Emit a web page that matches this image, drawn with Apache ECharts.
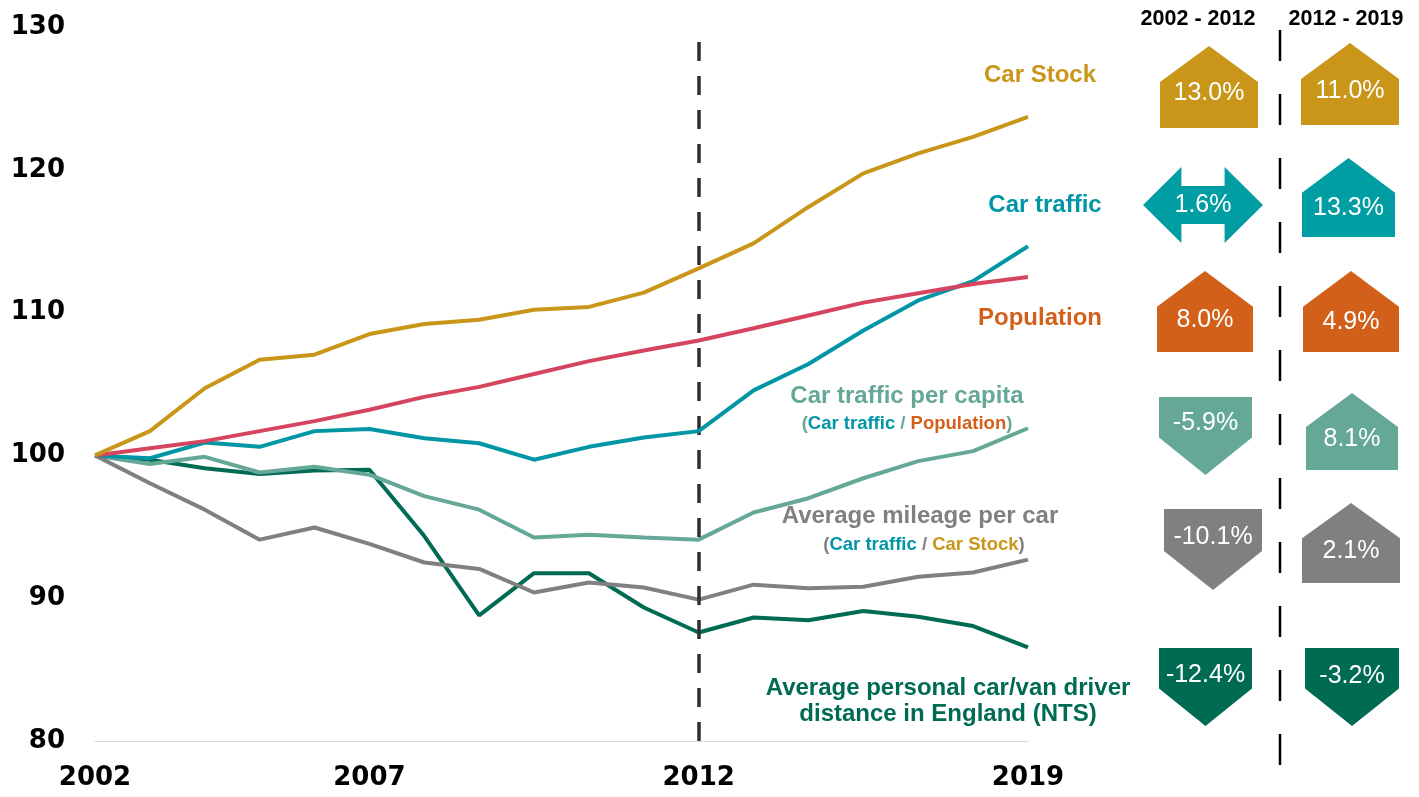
<!DOCTYPE html>
<html>
<head>
<meta charset="utf-8">
<script src="https://cdn.jsdelivr.net/npm/echarts@6/dist/echarts.min.js"></script>
<style>
  html, body { margin: 0; padding: 0; background: #fff; }
  #chart { width: 1419px; height: 797px; }
</style>
</head>
<body>
<div id="chart"></div>
<script>
const xTickLabels = ["2002", "", "", "", "", "2007", "", "", "", "", "", "2012", "", "", "", "", "", "2019"];
const yTicks = { min: 80, max: 130, interval: 10 };
const splitIndex = 11;

const carStock = [100, 101.7, 104.7, 106.7, 107.05, 108.5, 109.2, 109.5, 110.2, 110.4, 111.4, 113.1, 114.85, 117.4, 119.75, 121.15, 122.3, 123.7];
const population = [100, 100.5, 101.0, 101.7, 102.4, 103.2, 104.1, 104.8, 105.7, 106.6, 107.35, 108.05, 108.9, 109.8, 110.7, 111.35, 112.0, 112.5];
const carTraffic = [100, 99.8, 100.9, 100.6, 101.7, 101.85, 101.2, 100.85, 99.7, 100.6, 101.25, 101.7, 104.55, 106.4, 108.75, 110.85, 112.2, 114.65];
const trafficPerCapita = [100, 99.4, 99.9, 98.8, 99.2, 98.65, 97.15, 96.2, 94.25, 94.45, 94.25, 94.1, 96.0, 97.0, 98.4, 99.6, 100.3, 101.9];
const mileagePerCar = [100, 98.05, 96.2, 94.1, 94.95, 93.8, 92.5, 92.05, 90.4, 91.1, 90.75, 89.9, 90.95, 90.7, 90.8, 91.5, 91.8, 92.7];
const ntsDistance = [100, 99.7, 99.1, 98.7, 98.95, 99.0, 94.35, 88.8, 91.75, 91.75, 89.35, 87.6, 88.65, 88.45, 89.1, 88.7, 88.05, 86.55];

const periodHeaders = ["2002 - 2012", "2012 - 2019"];
const change0212 = ["13.0%", "1.6%", "8.0%", "-5.9%", "-10.1%", "-12.4%"];
const change1219 = ["11.0%", "13.3%", "4.9%", "8.1%", "2.1%", "-3.2%"];
const arrows0212 = ["up", "both", "up", "down", "down", "down"];
const arrows1219 = ["up", "up", "up", "up", "up", "down"];

const C = {
  gold: "#C9961A",
  teal: "#0096A5",
  tealBadge: "#009DA2",
  red: "#D6455F",
  orange: "#D3601A",
  sage: "#66A898",
  grey: "#808080",
  green: "#006B53",
};
const badgeColors = [C.gold, C.tealBadge, C.orange, C.sage, C.grey, C.green];
const FONT = "'Liberation Sans', Arial, sans-serif";

// badge boxes [x0, x1, y0, y1] and text centre y, per row, per column
const badgeBox1 = [[1160, 1258, 46, 128], [1143, 1263, 167, 243], [1157, 1253, 271, 352], [1159, 1252, 397, 475], [1164, 1262, 509, 590], [1159, 1252, 648, 726]];
const badgeBox2 = [[1301, 1399, 43, 125], [1302, 1395, 158, 237], [1303, 1399, 271, 352], [1306, 1398, 393, 470], [1302, 1400, 503, 583], [1305, 1399, 648, 726]];
const textY1 = [93, 205, 320, 423, 537, 675];
const textY2 = [91, 208, 322, 439, 551, 676];

function badgePoints(type, [x0, x1, y0, y1]) {
  const cx = (x0 + x1) / 2, h = y1 - y0, w = x1 - x0;
  if (type === "up") {
    const ys = y0 + 0.44 * h;
    return [[cx, y0], [x1, ys], [x1, y1], [x0, y1], [x0, ys]];
  }
  if (type === "down") {
    const ys = y0 + 0.52 * h;
    return [[x0, y0], [x1, y0], [x1, ys], [cx, y1], [x0, ys]];
  }
  const head = 0.32 * w, cy = (y0 + y1) / 2, s = 0.25 * h;
  return [[x0, cy], [x0 + head, y0], [x0 + head, y0 + s], [x1 - head, y0 + s], [x1 - head, y0],
    [x1, cy], [x1 - head, y1], [x1 - head, y1 - s], [x0 + head, y1 - s], [x0 + head, y1]];
}

const graphics = [];
[[badgeBox1, arrows0212, change0212, textY1], [badgeBox2, arrows1219, change1219, textY2]].forEach(([boxes, arrows, texts, ty]) => {
  boxes.forEach((box, i) => {
    graphics.push({
      type: "polygon", shape: { points: badgePoints(arrows[i], box) },
      style: { fill: badgeColors[i] }, z: 10,
    });
    graphics.push({
      type: "text", z: 11,
      style: {
        text: texts[i], x: (box[0] + box[1]) / 2, y: ty[i], align: "center", verticalAlign: "middle",
        fill: "#fff", font: `25px ${FONT}`,
      },
    });
  });
});
periodHeaders.forEach((t, i) => {
  graphics.push({
    type: "text", z: 11,
    style: { text: t, x: [1198, 1346][i], y: 19, align: "center", verticalAlign: "middle", fill: "#000", font: `bold 21.5px ${FONT}` },
  });
});
for (let y = 30; y < 765; y += 64) {
  graphics.push({ type: "line", shape: { x1: 1280, y1: y, x2: 1280, y2: Math.min(y + 31, 765) }, style: { stroke: "#000", lineWidth: 2.5 } });
}

const lbl = (text, x, y, fill) => ({
  type: "text", z: 11,
  style: { text, x, y, align: "center", verticalAlign: "middle", fill, font: `bold 24px ${FONT}` },
});
graphics.push(lbl("Car Stock", 1040, 75, C.gold));
graphics.push(lbl("Car traffic", 1045, 205, C.teal));
graphics.push(lbl("Population", 1040, 318, C.orange));
graphics.push(lbl("Car traffic per capita", 907, 396, C.sage));
graphics.push(lbl("Average mileage per car", 920, 516, C.grey));
graphics.push(lbl("Average personal car/van driver", 948, 688, C.green));
graphics.push(lbl("distance in England (NTS)", 948, 714, C.green));
const subFont = `bold 18.5px ${FONT}`;
const sub = (parts, x, y) => ({
  type: "text", z: 11,
  style: {
    text: parts.map(([k, t]) => `{${k}|${t}}`).join(""), x, y, align: "center", verticalAlign: "middle",
    rich: {
      g: { fill: C.grey, font: subFont },
      s: { fill: C.sage, font: subFont },
      t: { fill: C.teal, font: subFont },
      o: { fill: C.orange, font: subFont },
      y: { fill: C.gold, font: subFont },
    },
  },
});
graphics.push(sub([["s", "("], ["t", "Car traffic"], ["s", " / "], ["o", "Population"], ["s", ")"]], 907, 424));
graphics.push(sub([["g", "("], ["t", "Car traffic"], ["g", " / "], ["y", "Car Stock"], ["g", ")"]], 924, 545));

const line = (name, data, color, z) => ({
  name, type: "line", data, z, symbol: "none", smooth: false,
  lineStyle: { color, width: 4 }, itemStyle: { color },
});

const series = [
  line("Average personal car/van driver distance in England (NTS)", ntsDistance, C.green, 2),
  line("Car traffic per capita", trafficPerCapita, C.sage, 3),
  line("Average mileage per car", mileagePerCar, C.grey, 4),
  line("Car traffic", carTraffic, C.teal, 5),
  line("Population", population, C.red, 6),
  line("Car Stock", carStock, C.gold, 7),
];
series[0].markLine = {
  silent: true, symbol: "none", label: { show: false },
  lineStyle: { color: "#2F2F33", width: 3.5, type: [19, 15] },
  data: [{ xAxis: splitIndex }],
};

const chart = echarts.init(document.getElementById("chart"));
chart.setOption({
  animation: false,
  grid: { left: 95, right: 391, top: 27, bottom: 56, containLabel: false, outerBoundsMode: "none" },
  xAxis: {
    type: "category", data: xTickLabels, boundaryGap: false,
    axisLine: { lineStyle: { color: "#D9D9D9", width: 1 } },
    axisTick: { show: false },
    axisLabel: { interval: 0, margin: 24, color: "#000", fontFamily: "DejaVu Sans", fontWeight: "bold", fontSize: 26 },
    splitLine: { show: false },
  },
  yAxis: {
    type: "value", min: yTicks.min, max: yTicks.max, interval: yTicks.interval,
    axisLine: { show: false }, axisTick: { show: false }, splitLine: { show: false },
    axisLabel: { margin: 30, color: "#000", fontFamily: "DejaVu Sans", fontWeight: "bold", fontSize: 26 },
  },
  series,
  graphic: graphics,
});
</script>
</body>
</html>
